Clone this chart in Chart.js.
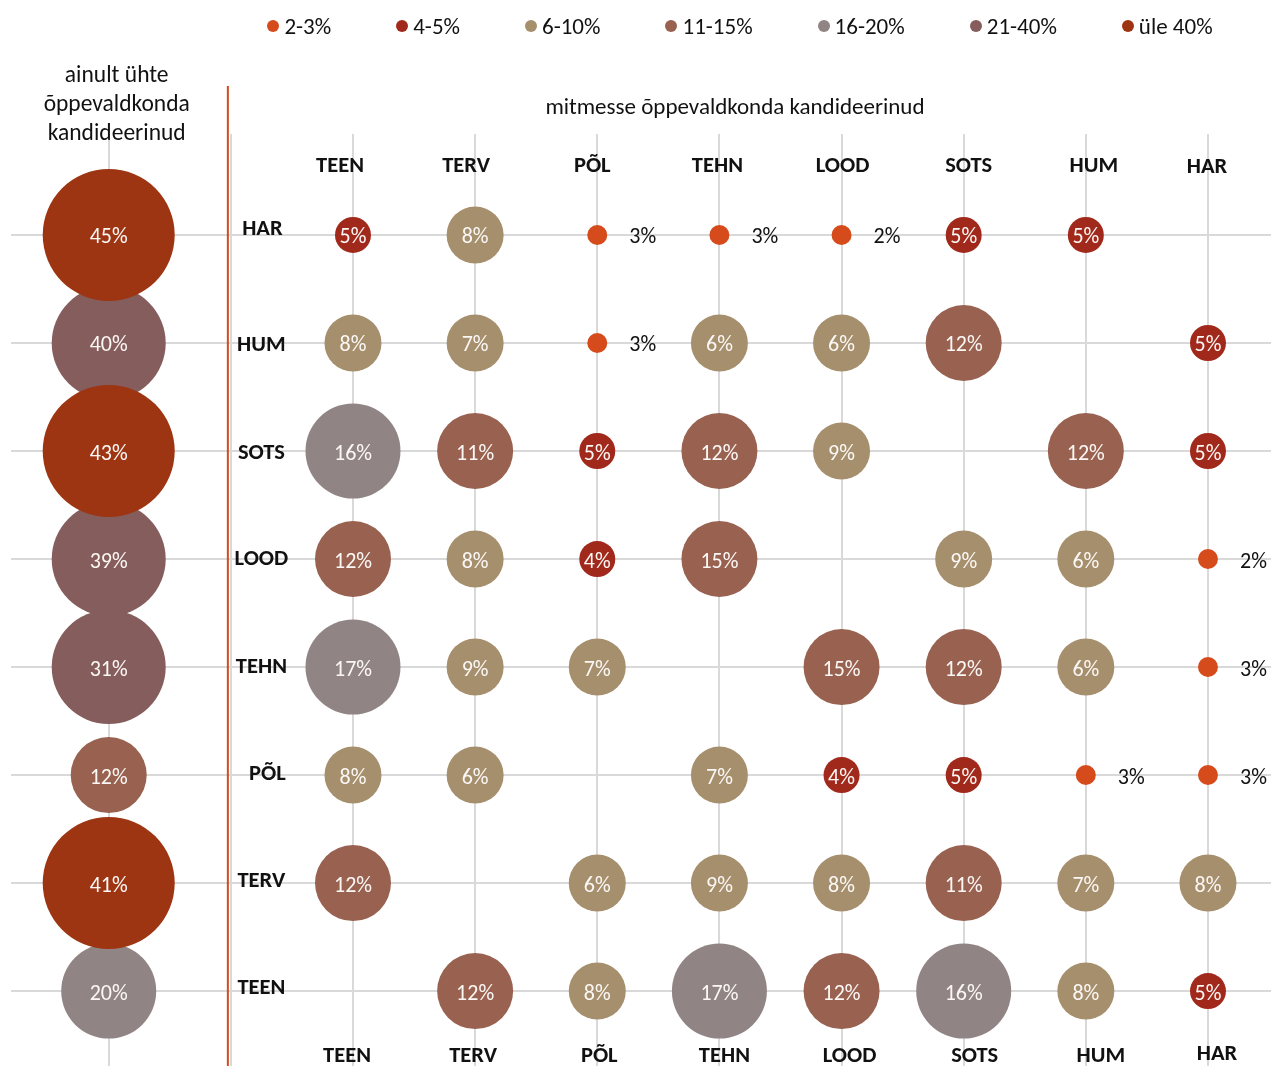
<!DOCTYPE html>
<html><head><meta charset="utf-8">
<script src="https://cdn.jsdelivr.net/npm/chart.js@4.4.1/dist/chart.umd.min.js"></script>
<style>
html,body{margin:0;padding:0;background:#fff;}
#wrap{position:relative;width:1271px;height:1066px;overflow:hidden;}
#legend{position:absolute;top:13px;left:212px;width:1056px;display:flex;justify-content:center;column-gap:65px;font:23px Carlito, Lato, sans-serif;color:#111;line-height:26px;}
.item{display:flex;align-items:center;white-space:nowrap;}
.dot{width:12px;height:12px;border-radius:50%;margin-right:5px;}
canvas{position:absolute;left:0;top:0;}
</style></head><body>
<div id="wrap"><canvas id="c" width="1271" height="1066"></canvas><div id="legend"></div></div>
<script>
// rows (top to bottom) and columns
const rowLabels = ['HAR','HUM','SOTS','LOOD','TEHN','PÕL','TERV','TEEN'];
const colLabels = ['TEEN','TERV','PÕL','TEHN','LOOD','SOTS','HUM','HAR'];
// only one field (left column)
const onlyOne = [45, 40, 43, 39, 31, 12, 41, 20];
// several fields: one array per row, values per column
const rowHAR  = [5, 8, 3, 3, 2, 5, 5, null];
const rowHUM  = [8, 7, 3, 6, 6, 12, null, 5];
const rowSOTS = [16, 11, 5, 12, 9, null, 12, 5];
const rowLOOD = [12, 8, 4, 15, null, 9, 6, 2];
const rowTEHN = [17, 9, 7, null, 15, 12, 6, 3];
const rowPOL  = [8, 6, null, 7, 4, 5, 3, 3];
const rowTERV = [12, null, 6, 9, 8, 11, 7, 8];
const rowTEEN = [null, 12, 8, 17, 12, 16, 8, 5];
const matrix = [rowHAR, rowHUM, rowSOTS, rowLOOD, rowTEHN, rowPOL, rowTERV, rowTEEN];
// classes
const classLabels = ['2-3%','4-5%','6-10%','11-15%','16-20%','21-40%','üle 40%'];
const classUpper  = [3, 5, 10, 15, 20, 40, 100];

// styles
const classColors = ['#D54B1B','#A1291C','#A68F6D','#986150','#918485','#855D5C','#9D3513'];
const classRadius = [10, 18, 28.5, 38, 47.5, 57, 66];
const FONT = 'Carlito, Lato, sans-serif';

function classOf(v){ for(let k=0;k<classUpper.length;k++){ if(v<=classUpper[k]) return k; } return classUpper.length-1; }

const datasets = classLabels.map((lab,k)=>({
  label: lab,
  data: [],
  backgroundColor: classColors[k],
  borderWidth: 0,
  hoverBorderWidth: 0,
  order: classLabels.length - k,
  clip: false
}));
const LEFT_X = -2;
onlyOne.forEach((v,i)=>{ const k=classOf(v); datasets[k].data.push({x:LEFT_X, y:i, r:classRadius[k], v}); });
matrix.forEach((row,i)=>row.forEach((v,j)=>{ if(v==null) return; const k=classOf(v); datasets[k].data.push({x:j, y:i, r:classRadius[k], v}); }));

// HTML legend
const lg = document.getElementById('legend');
classLabels.forEach((lab,k)=>{
  const it=document.createElement('div'); it.className='item';
  const d=document.createElement('span'); d.className='dot'; d.style.background=classColors[k];
  const t=document.createElement('span'); t.textContent=lab;
  it.appendChild(d); it.appendChild(t); lg.appendChild(it);
});

const topShift = [-13,-9,-5,-2,1,5,8,-1];
const botShift = [-6,-2,2,5,8,11,15,9];
const rowShift = [[1,-8],[0,0],[0,0],[0,-2],[0,-2],[6,-3],[0,-4],[0,-5]];

const textPlugin = {
  id:'texts',
  beforeDatasetsDraw(chart){
    const c=chart.ctx, xs=chart.scales.x, top=chart.chartArea.top;
    c.save();
    c.strokeStyle='#D54B1B'; c.lineWidth=2;
    const lx = xs.getPixelForValue(-1)-3;
    c.beginPath(); c.moveTo(lx, top-48); c.lineTo(lx, chart.chartArea.bottom); c.stroke();
    c.restore();
  },
  afterDatasetsDraw(chart){
    const c=chart.ctx, xs=chart.scales.x, ys=chart.scales.y, top=chart.chartArea.top;
    c.save();
    c.textBaseline='middle';
    // bubble labels
    chart.data.datasets.forEach((ds,di)=>{
      const meta=chart.getDatasetMeta(di);
      meta.data.forEach((el,pi)=>{
        const p=ds.data[pi];
        const txt=p.v+'%';
        c.font='22px '+FONT;
        if(di===0){ c.fillStyle='#111'; c.textAlign='left'; c.fillText(txt, el.x+32, el.y+3); }
        else { c.fillStyle='#fbf7f4'; c.textAlign='center'; c.fillText(txt, el.x, el.y+3); }
      });
    });
    // left title
    c.fillStyle='#111'; c.textAlign='center'; c.font='23.5px '+FONT;
    const tx = xs.getPixelForValue(LEFT_X)+8;
    c.fillText('ainult ühte', tx, top-58);
    c.fillText('õppevaldkonda', tx, top-29);
    c.fillText('kandideerinud', tx, top);
    // right header
    c.font='23px '+FONT;
    c.fillText('mitmesse õppevaldkonda kandideerinud', (xs.getPixelForValue(-1)+xs.getPixelForValue(7.5))/2 - 15, top-26);
    // column labels
    c.font='bold 22.5px '+FONT;
    colLabels.forEach((lab,j)=>{
      c.fillText(lab, xs.getPixelForValue(j)+topShift[j], ys.getPixelForValue(-0.65)+2+(j===7?1:0));
      c.fillText(lab, xs.getPixelForValue(j)+botShift[j], ys.getPixelForValue(7.57)+4+(j===7?-2:0));
    });
    // row labels
    rowLabels.forEach((lab,i)=>{
      c.fillText(lab, xs.getPixelForValue(-0.75)+rowShift[i][0], ys.getPixelForValue(i)+rowShift[i][1]+2);
    });
    c.restore();
  }
};

const gridOpts = {color:'#d9d9d9', lineWidth:2, drawTicks:false};
new Chart(document.getElementById('c'), {
  type:'bubble',
  data:{datasets},
  options:{
    responsive:false, animation:false, events:[],
    layout:{autoPadding:false, padding:{left:11,right:0,top:134,bottom:0}},
    plugins:{legend:{display:false}, tooltip:{enabled:false}},
    scales:{
      x:{type:'linear', min:-2.8, max:7.516,
         afterBuildTicks:s=>{ s.ticks=[-2,-1,0,1,2,3,4,5,6,7].map(v=>({value:v})); },
         ticks:{display:false}, grid:gridOpts, border:{display:false}},
      y:{type:'linear', reverse:true, min:-0.935, max:7.694,
         afterBuildTicks:s=>{ s.ticks=[0,1,2,3,4,5,6,7].map(v=>({value:v})); },
         ticks:{display:false}, grid:gridOpts, border:{display:false}}
    }
  },
  plugins:[textPlugin]
});
</script>
</body></html>
